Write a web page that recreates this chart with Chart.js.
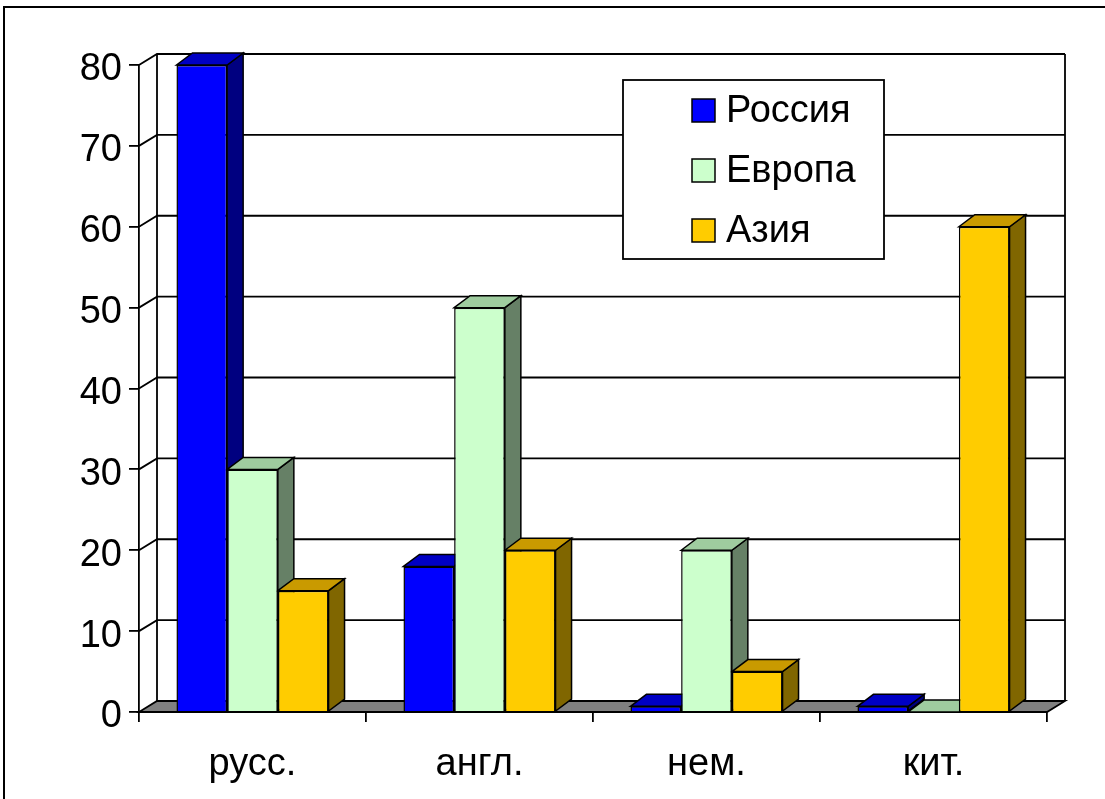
<!DOCTYPE html>
<html>
<head>
<meta charset="utf-8">
<script src="https://cdn.jsdelivr.net/npm/chart.js@4"></script>
<style>
  body { margin: 0; background: #fff; }
  canvas { display: block; }
</style>
</head>
<body>
<canvas id="chart" width="1105" height="799"></canvas>
<script>
const categories = ["русс.", "англ.", "нем.", "кит."];
const seriesNames = ["Россия", "Европа", "Азия"];
const russia = [80, 18, 0.7, 0.7];
const europe = [30, 50, 20, 0];
const asia = [15, 20, 5, 60];
const yMax = 80;
const yStep = 10;

const frontColors = ["#0000ff", "#ccffcc", "#ffcc00"];
const topColors = ["#0000c4", "#9fcc9f", "#c99a00"];
const sideColors = ["#000080", "#668066", "#806600"];

// depth offsets for the fake 3d look
const WALL_DX = 18, WALL_DY = -11;
const BAR_DX = 16, BAR_DY = -12;
const LINE = 1.8;
const FONT = "'Liberation Sans', Arial, sans-serif";

function poly(ctx, pts, fill) {
  ctx.beginPath();
  ctx.moveTo(pts[0][0], pts[0][1]);
  for (let i = 1; i < pts.length; i++) ctx.lineTo(pts[i][0], pts[i][1]);
  ctx.closePath();
  if (fill) {
    ctx.fillStyle = fill;
    ctx.fill();
  }
  ctx.stroke();
}

const wallPlugin = {
  id: "wall3d",
  beforeDatasetsDraw(chart) {
    const ctx = chart.ctx;
    const area = chart.chartArea;
    const yScale = chart.scales.y;
    ctx.save();
    ctx.strokeStyle = "#000";
    ctx.lineWidth = 2;

    // outer frame (right and bottom are off the picture)
    ctx.beginPath();
    ctx.moveTo(4, 799);
    ctx.lineTo(4, 7);
    ctx.lineTo(1105, 7);
    ctx.stroke();

    ctx.lineWidth = LINE;
    const backL = area.left + WALL_DX;
    const backR = area.right + WALL_DX;
    const backTop = yScale.getPixelForValue(yMax) + WALL_DY;
    const backBottom = yScale.getPixelForValue(0) + WALL_DY;

    // back wall gridlines and side wall diagonals
    for (let v = yStep; v <= yMax; v += yStep) {
      const y = yScale.getPixelForValue(v);
      ctx.beginPath();
      ctx.moveTo(area.left, y);
      ctx.lineTo(backL, y + WALL_DY);
      ctx.lineTo(backR, y + WALL_DY);
      ctx.stroke();
    }
    ctx.beginPath();
    ctx.moveTo(backL, backTop);
    ctx.lineTo(backL, backBottom);
    ctx.moveTo(backR, backTop);
    ctx.lineTo(backR, backBottom);
    ctx.stroke();

    // floor
    const y0 = yScale.getPixelForValue(0);
    poly(ctx, [
      [area.left, y0],
      [area.right, y0],
      [area.right + WALL_DX, y0 + WALL_DY],
      [area.left + WALL_DX, y0 + WALL_DY]
    ], "#808080");

    // top and side faces of every bar
    ctx.lineWidth = 1.5;
    for (let i = 0; i < categories.length; i++) {
      chart.data.datasets.forEach((ds, d) => {
        const bar = chart.getDatasetMeta(d).data[i];
        const left = bar.x - bar.width / 2;
        const right = bar.x + bar.width / 2;
        const top = bar.y;
        const bottom = bar.base;
        poly(ctx, [
          [right, top],
          [right + BAR_DX, top + BAR_DY],
          [right + BAR_DX, bottom + BAR_DY],
          [right, bottom]
        ], sideColors[d]);
        poly(ctx, [
          [left, top],
          [left + BAR_DX, top + BAR_DY],
          [right + BAR_DX, top + BAR_DY],
          [right, top]
        ], topColors[d]);
      });
    }
    ctx.restore();
  },
  afterDatasetsDraw(chart) {
    const ctx = chart.ctx;
    ctx.save();
    // legend box
    ctx.strokeStyle = "#000";
    ctx.lineWidth = LINE;
    ctx.fillStyle = "#fff";
    ctx.fillRect(623, 80, 261, 179);
    ctx.strokeRect(623, 80, 261, 179);
    ctx.font = "38px " + FONT;
    ctx.textBaseline = "middle";
    chart.data.datasets.forEach((ds, d) => {
      const cy = 110 + d * 60;
      ctx.fillStyle = ds.backgroundColor;
      ctx.lineWidth = 1.5;
      ctx.fillRect(692, cy - 11, 23, 23);
      ctx.strokeRect(692, cy - 11, 23, 23);
      ctx.fillStyle = "#000";
      ctx.fillText(ds.label, 726, cy + 2);
    });
    ctx.restore();
  }
};

const seriesData = [russia, europe, asia];

new Chart(document.getElementById("chart"), {
  type: "bar",
  data: {
    labels: categories,
    datasets: seriesNames.map((name, d) => ({
      label: name,
      data: seriesData[d],
      backgroundColor: frontColors[d],
      borderColor: "#000",
      borderWidth: 1.5,
      categoryPercentage: 0.67,
      barPercentage: 1
    }))
  },
  options: {
    responsive: false,
    animation: false,
    devicePixelRatio: 1,
    layout: {
      padding: { top: 65, right: 58, left: 0, bottom: 0 }
    },
    plugins: {
      legend: { display: false },
      tooltip: { enabled: false }
    },
    scales: {
      x: {
        grid: {
          offset: true,
          drawOnChartArea: false,
          tickLength: 10,
          color: "#000",
          lineWidth: LINE
        },
        border: { color: "#000", width: LINE },
        ticks: {
          color: "#000",
          padding: 20,
          font: { family: FONT, size: 38 }
        },
        afterFit(scale) {
          scale.height = 87;
        }
      },
      y: {
        min: 0,
        max: yMax,
        grid: {
          drawOnChartArea: false,
          tickLength: 10,
          color: "#000",
          lineWidth: LINE
        },
        border: { color: "#000", width: LINE },
        ticks: {
          stepSize: yStep,
          color: "#000",
          padding: 7,
          labelOffset: 5,
          font: { family: FONT, size: 38 }
        },
        afterFit(scale) {
          scale.width = 139;
        }
      }
    }
  },
  plugins: [wallPlugin]
});
</script>
</body>
</html>
